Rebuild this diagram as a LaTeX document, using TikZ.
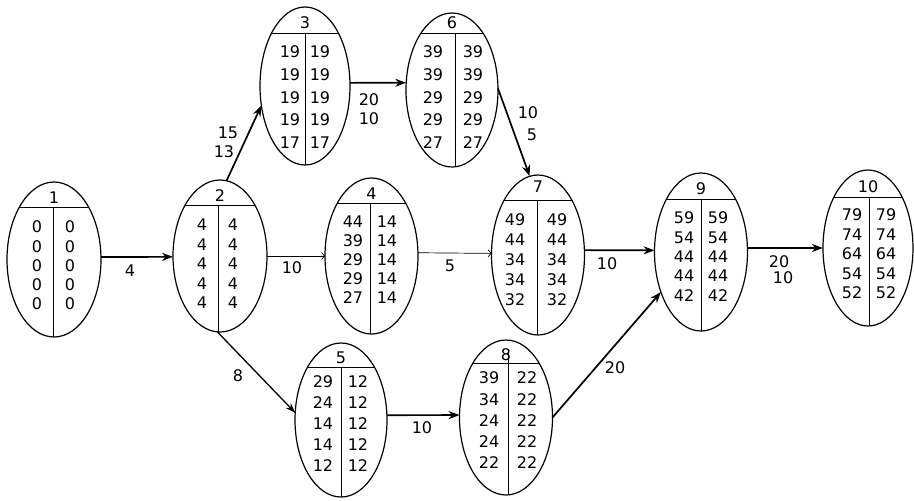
\documentclass[tikz,border=0pt]{standalone}
\usepackage{fontspec}
\setmainfont{DejaVu Sans}
\usetikzlibrary{shapes.geometric,arrows.meta}
\tikzset{
  ev/.style={ellipse, draw, line width=1.2pt, inner sep=0pt, outer sep=0pt},
  cut/.style={line width=1pt},
  num/.style={font=\fontsize{16}{16}\selectfont, inner sep=0pt},
  lab/.style={font=\fontsize{16}{16}\selectfont, inner sep=0pt},
  heavy/.style={line width=1.7pt, -{Stealth[length=11pt,width=8pt]}},
  medium/.style={line width=1.3pt, -{Stealth[length=10pt,width=7pt]}},
  light/.style={line width=0.7pt, -{Straight Barb[length=3pt,width=7pt]}},
}
% #1 number, #2 cx, #3 cy, #4 rx, #5 ry, #6 header y, #7 divider x, #8 divider top, #9 label y
\newcommand\evnode[9]{%
  \node[ev, minimum width=#4*2pt, minimum height=#5*2pt] (n#1) at (#2,#3) {};
  \begin{scope}
    \clip (#2,#3) ellipse [x radius=#4, y radius=#5];
    \draw[cut] (#2-#4,#6) -- (#2+#4,#6);
    \draw[cut] (#7,#8) -- (#7,#3+#5);
  \end{scope}
  \node[lab] (l#1) at (#2,#9) {#1};
}
% #1 prefix, #2 xl, #3 xr, #4 y0, #5 dy, #6 list
\newcommand\evrows[6]{%
  \foreach \a/\b [count=\i from 0] in {#6}{
    \node[num] (#1a\i) at (#2,#4+\i*#5) {\a};
    \node[num] (#1b\i) at (#3,#4+\i*#5) {\b};
  }%
}
\begin{document}
\begin{tikzpicture}[x=1pt,y=-1pt]
\fill[white] (0,0) rectangle (914,501);
\useasboundingbox (0,0) rectangle (914,501);

\evnode{1}{54}{259.5}{47}{77.5}{207}{53}{207}{198}
\evrows{r1}{37}{70}{227}{19.2}{0/0,0/0,0/0,0/0,0/0}

\evnode{2}{220}{256}{47}{76}{205}{218}{205}{196}
\evrows{r2}{202}{233}{225}{19.5}{4/4,4/4,4/4,4/4,4/4}

\evnode{3}{305}{86}{45}{79}{33}{305}{33}{23}
\evrows{r3}{290}{320}{52}{22.7}{19/19,19/19,19/19,19/19,17/17}

\evnode{6}{452}{90}{46}{77}{33}{455}{33}{23}
\evrows{r6}{433}{473}{52}{22.7}{39/39,39/39,29/29,29/29,27/27}

\evnode{4}{371.5}{256}{46.5}{78}{203}{370}{203}{194}
\evrows{r4}{353}{387}{222}{19}{44/14,39/14,29/14,29/14,27/14}

\evnode{7}{538}{255}{46.5}{80}{200}{537}{200}{187}
\evrows{r7}{515}{557}{220}{19.8}{49/49,44/44,34/34,34/34,32/32}

\evnode{9}{701}{252}{46.5}{79}{199}{701}{199}{189}
\evrows{r9}{684}{718}{218}{19.3}{59/59,54/54,44/44,44/44,42/42}

\evnode{10}{868}{248}{45}{78}{197}{869}{197}{187}
\evrows{r10}{852}{886}{215}{19.5}{79/79,74/74,64/64,54/54,52/52}

\evnode{5}{341}{420}{46}{77}{367}{341}{367}{358}
\evrows{r5}{323}{358}{382}{20.8}{29/12,24/12,14/12,14/12,12/12}

\evnode{8}{506}{417.5}{46.5}{77.5}{363}{508}{352}{355}
\evrows{r8}{489}{527}{378}{21.2}{39/22,34/22,24/22,24/22,22/22}

% connectors
\draw[heavy] (n1.3) -- (n2.181);
\draw[heavy] (n2.85) -- (n3.204);
\draw[light] (n2.east) -- (n4.west);
\draw[medium] (n2.268) -- (n5.171);
\draw[heavy] (n3.4) -- (n6.171);
\draw[light] (n4.4) -- (n7.178);
\draw[heavy] (n6.2) -- (n7.96);
\draw[heavy] (n5.6) -- (n8.177);
\draw[heavy] (n7.6) -- (n9.178);
\draw[heavy] (n8.0) -- (n9.225);
\draw[heavy] (n9.5) -- (n10.180);

% connector labels
\node[lab] (e12) at (130,271) {4};
\node[lab] (e23a) at (228,133) {15};
\node[lab] (e23b) at (224,152) {13};
\node[lab] (e24) at (292,268) {10};
\node[lab] (e25) at (238,376) {8};
\node[lab] (e36a) at (369,100) {20};
\node[lab] (e36b) at (369,119) {10};
\node[lab] (e47) at (450,266) {5};
\node[lab] (e67a) at (528,113) {10};
\node[lab] (e67b) at (532,135) {5};
\node[lab] (e58) at (422,428) {10};
\node[lab] (e79) at (607,264) {10};
\node[lab] (e89) at (615,368) {20};
\node[lab] (e910a) at (779,262) {20};
\node[lab] (e910b) at (783,278) {10};
\end{tikzpicture}
\end{document}
